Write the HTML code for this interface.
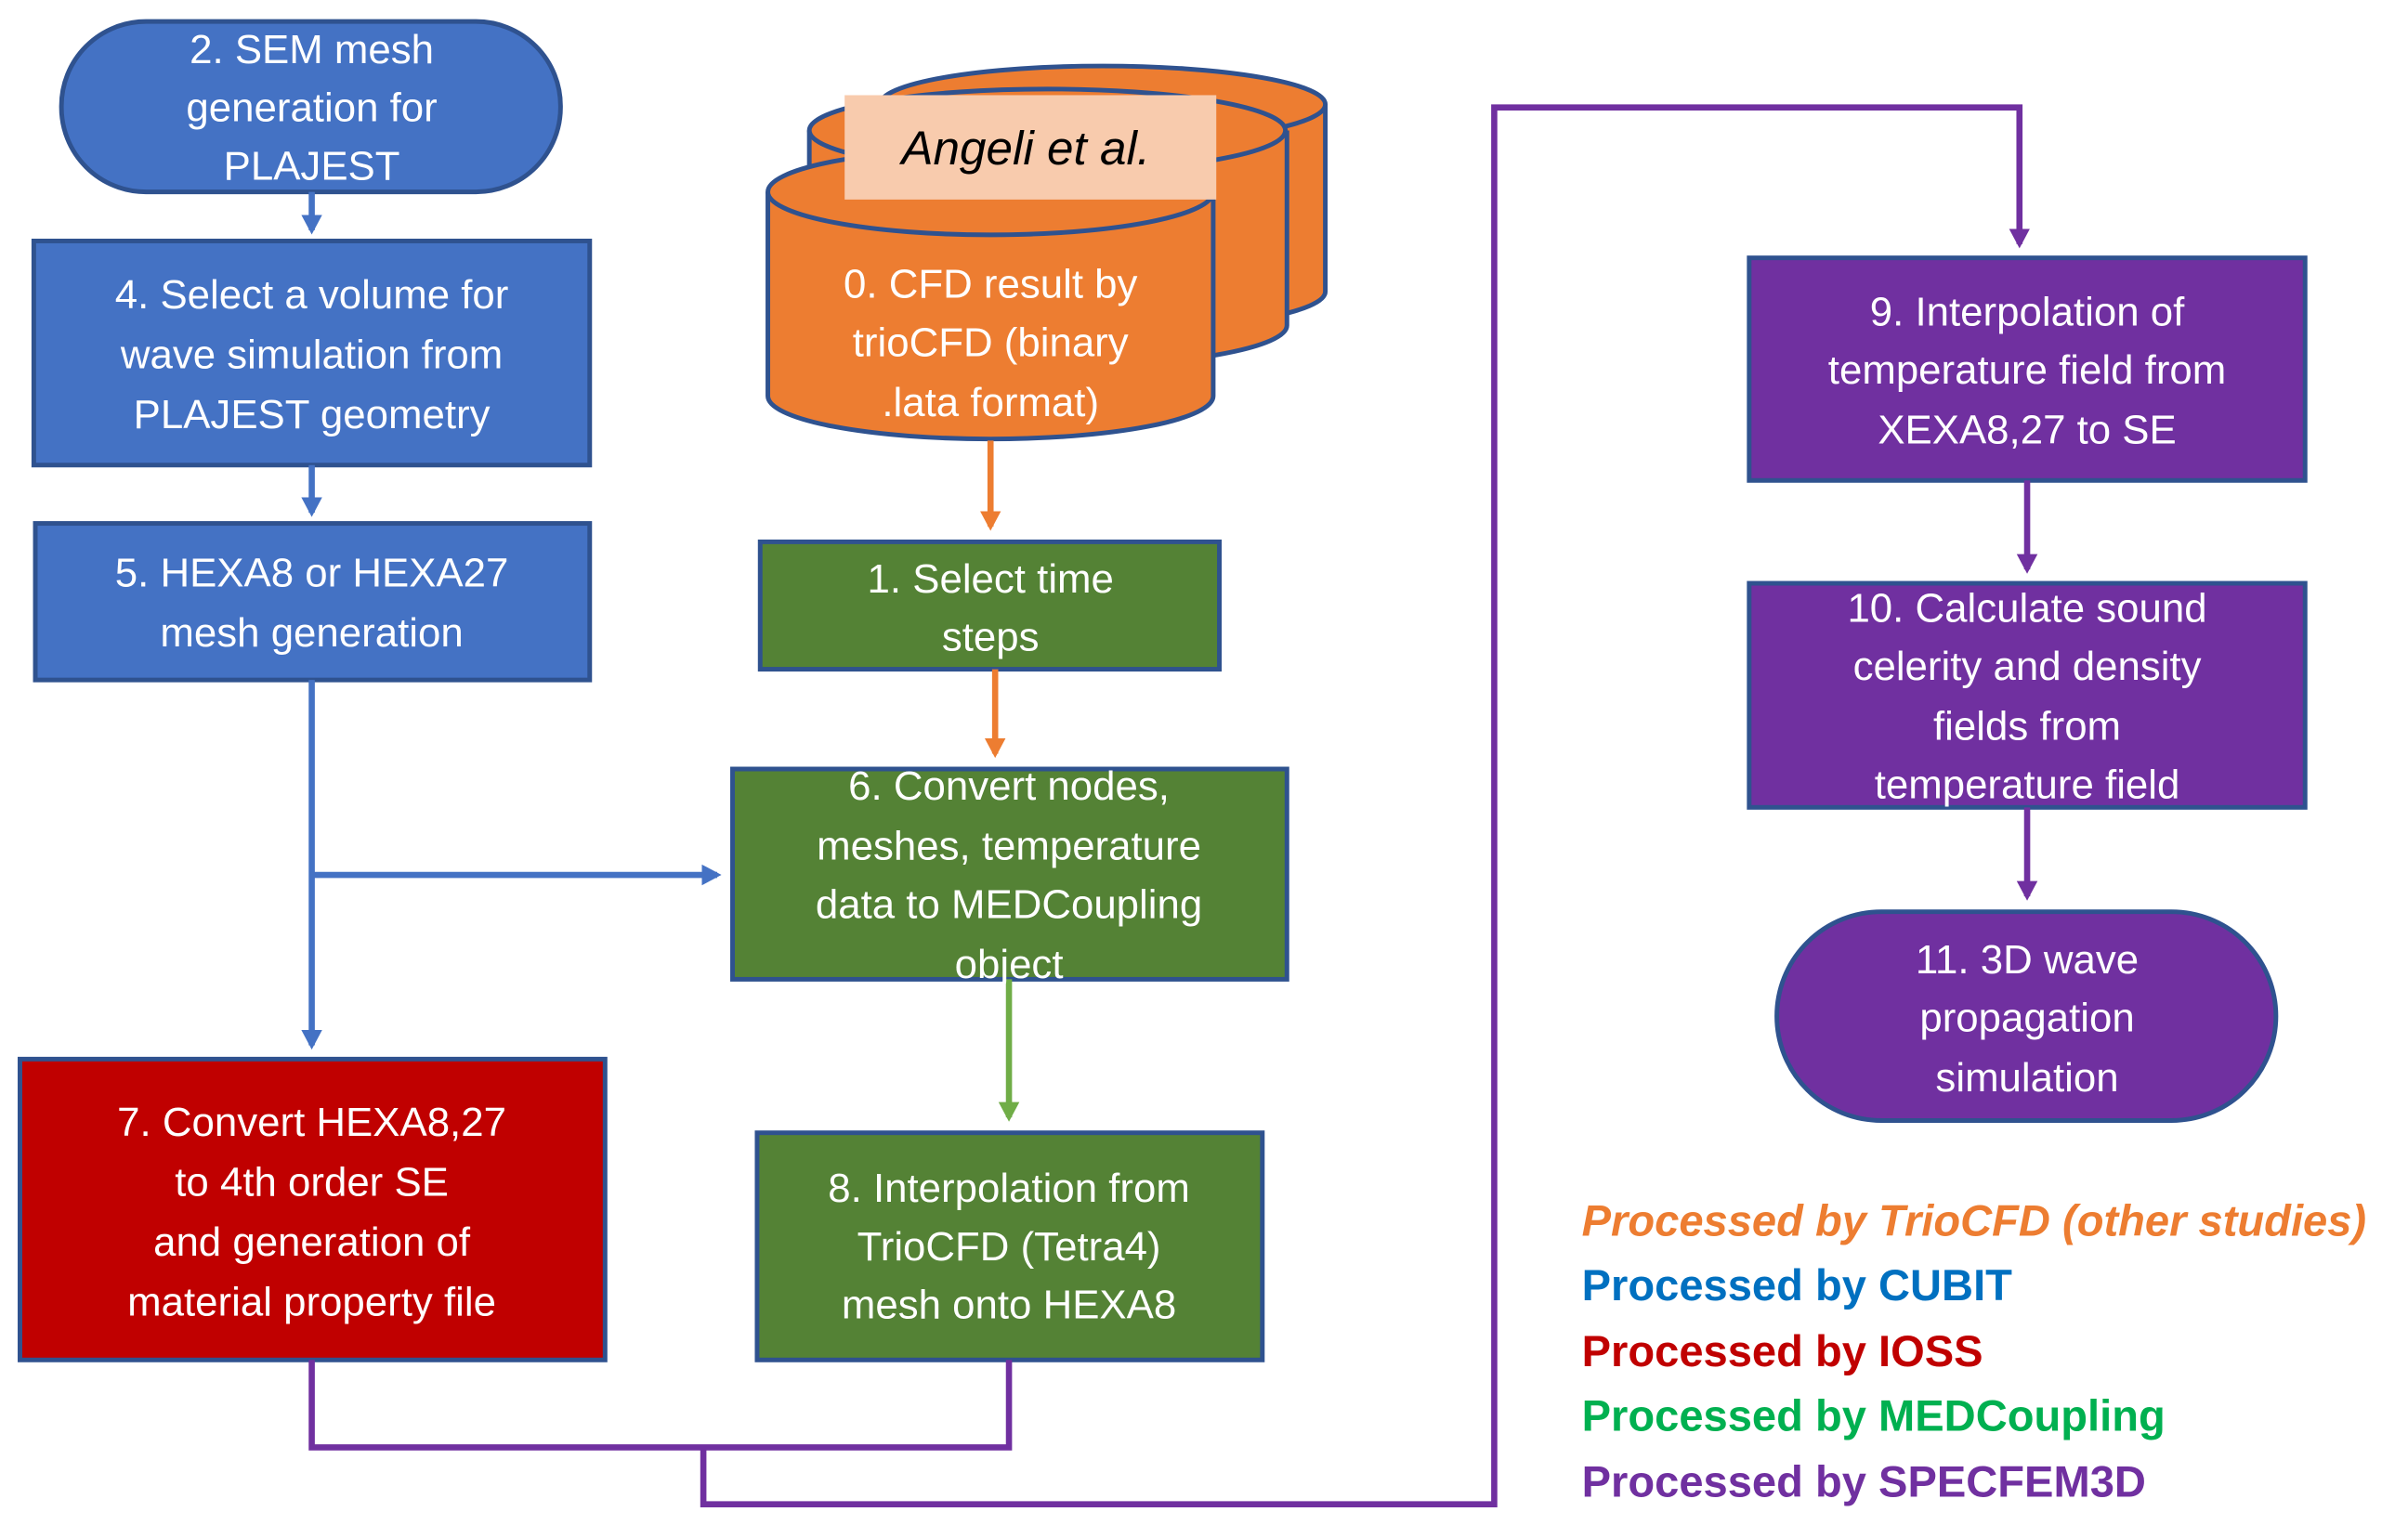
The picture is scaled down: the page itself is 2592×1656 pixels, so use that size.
<!DOCTYPE html>
<html><head><meta charset="utf-8"><style>
html,body{margin:0;padding:0;background:#fff;}
svg{display:block;}
text{font-family:"Liberation Sans",sans-serif;font-size:26.5px;fill:#fff;text-anchor:middle;}
.lg{text-anchor:start;font-weight:bold;font-size:28.5px;}
</style></head><body>
<svg width="2592" height="1656" viewBox="0 0 1568 1002" preserveAspectRatio="none" xmlns="http://www.w3.org/2000/svg">
<defs>
<marker id="ab" markerWidth="5" markerHeight="5" refX="2.5" refY="2" orient="auto" markerUnits="strokeWidth"><path d="M0,0.3 L3.2,2 L0,3.7 z" fill="#4472C4"/></marker>
<marker id="ao" markerWidth="5" markerHeight="5" refX="2.5" refY="2" orient="auto" markerUnits="strokeWidth"><path d="M0,0.3 L3.2,2 L0,3.7 z" fill="#ED7D31"/></marker>
<marker id="ag" markerWidth="5" markerHeight="5" refX="2.5" refY="2" orient="auto" markerUnits="strokeWidth"><path d="M0,0.3 L3.2,2 L0,3.7 z" fill="#70AD47"/></marker>
<marker id="ap" markerWidth="5" markerHeight="5" refX="2.5" refY="2" orient="auto" markerUnits="strokeWidth"><path d="M0,0.3 L3.2,2 L0,3.7 z" fill="#7030A0"/></marker>
</defs>
<g stroke="#2F528F" stroke-width="3">
<rect x="40" y="14" width="325" height="111" rx="55" fill="#4472C4"/>
<rect x="22" y="157" width="362" height="146" fill="#4472C4"/>
<rect x="23" y="341" width="361" height="102" fill="#4472C4"/>
<rect x="13" y="690" width="381" height="196" fill="#C00000"/>
<path d="M573,68 L573,190 A145,25 0 0 0 863,190 L863,68" fill="#ED7D31"/>
<ellipse cx="718" cy="68" rx="145" ry="25" fill="#ED7D31"/>
<path d="M527,85 L527,212 A155,27 0 0 0 838,212 L838,85" fill="#ED7D31"/>
<ellipse cx="682" cy="85" rx="155" ry="27" fill="#ED7D31"/>
<path d="M500,125 L500,258 A145,28 0 0 0 790,258 L790,125" fill="#ED7D31"/>
<ellipse cx="645" cy="125" rx="145" ry="28" fill="#ED7D31"/>
<rect x="495" y="353" width="299" height="83" fill="#548235"/>
<rect x="477" y="501" width="361" height="137" fill="#548235"/>
<rect x="493" y="738" width="329" height="148" fill="#548235"/>
<rect x="1139" y="168" width="362" height="145" fill="#7030A0"/>
<rect x="1139" y="380" width="362" height="146" fill="#7030A0"/>
<rect x="1157" y="594" width="325" height="136" rx="68" fill="#7030A0"/>
</g>
<rect x="550" y="62" width="242" height="68" fill="#F8CBAD"/>
<text x="668" y="107" style="fill:#000;font-style:italic;font-size:31px">Angeli et al.</text>
<g fill="none" stroke-width="4">
<line x1="203" y1="125" x2="203" y2="150" stroke="#4472C4" marker-end="url(#ab)"/>
<line x1="203" y1="303" x2="203" y2="334" stroke="#4472C4" marker-end="url(#ab)"/>
<line x1="203" y1="443" x2="203" y2="681" stroke="#4472C4" marker-end="url(#ab)"/>
<line x1="203" y1="570" x2="467" y2="570" stroke="#4472C4" marker-end="url(#ab)"/>
<line x1="645" y1="287" x2="645" y2="343" stroke="#ED7D31" marker-end="url(#ao)"/>
<line x1="648" y1="436" x2="648" y2="491" stroke="#ED7D31" marker-end="url(#ao)"/>
<line x1="657" y1="638" x2="657" y2="728" stroke="#70AD47" marker-end="url(#ag)"/>
<polyline points="203,886 203,943 657,943 657,886" stroke="#7030A0"/>
<polyline points="458,943 458,980 973,980 973,70 1315,70 1315,159" stroke="#7030A0" marker-end="url(#ap)"/>
<line x1="1320" y1="313" x2="1320" y2="371" stroke="#7030A0" marker-end="url(#ap)"/>
<line x1="1320" y1="526" x2="1320" y2="584" stroke="#7030A0" marker-end="url(#ap)"/>
</g>
<text x="203" y="41">2. SEM mesh</text><text x="203" y="79">generation for</text><text x="203" y="117">PLAJEST</text>
<text x="203" y="201">4. Select a volume for</text><text x="203" y="240">wave simulation from</text><text x="203" y="279">PLAJEST geometry</text>
<text x="203" y="382">5. HEXA8 or HEXA27</text><text x="203" y="421">mesh generation</text>
<text x="203" y="740">7. Convert HEXA8,27</text><text x="203" y="779">to 4th order SE</text><text x="203" y="818">and generation of</text><text x="203" y="857">material property file</text>
<text x="645" y="194">0. CFD result by</text><text x="645" y="232">trioCFD (binary</text><text x="645" y="271">.lata format)</text>
<text x="645" y="386">1. Select time</text><text x="645" y="424">steps</text>
<text x="657" y="521">6. Convert nodes,</text><text x="657" y="560">meshes, temperature</text><text x="657" y="598">data to MEDCoupling</text><text x="657" y="637">object</text>
<text x="657" y="783">8. Interpolation from</text><text x="657" y="821">TrioCFD (Tetra4)</text><text x="657" y="859">mesh onto HEXA8</text>
<text x="1320" y="212">9. Interpolation of</text><text x="1320" y="250">temperature field from</text><text x="1320" y="289">XEXA8,27 to SE</text>
<text x="1320" y="405">10. Calculate sound</text><text x="1320" y="443">celerity and density</text><text x="1320" y="482">fields from</text><text x="1320" y="520">temperature field</text>
<text x="1320" y="634">11. 3D wave</text><text x="1320" y="672">propagation</text><text x="1320" y="711">simulation</text>
<text class="lg" x="1030" y="805" style="fill:#ED7D31;font-style:italic">Processed by TrioCFD (other studies)</text>
<text class="lg" x="1030" y="847" style="fill:#0070C0">Processed by CUBIT</text>
<text class="lg" x="1030" y="890" style="fill:#C00000">Processed by IOSS</text>
<text class="lg" x="1030" y="932" style="fill:#00B050">Processed by MEDCoupling</text>
<text class="lg" x="1030" y="975" style="fill:#7030A0">Processed by SPECFEM3D</text>
</svg>
</body></html>
